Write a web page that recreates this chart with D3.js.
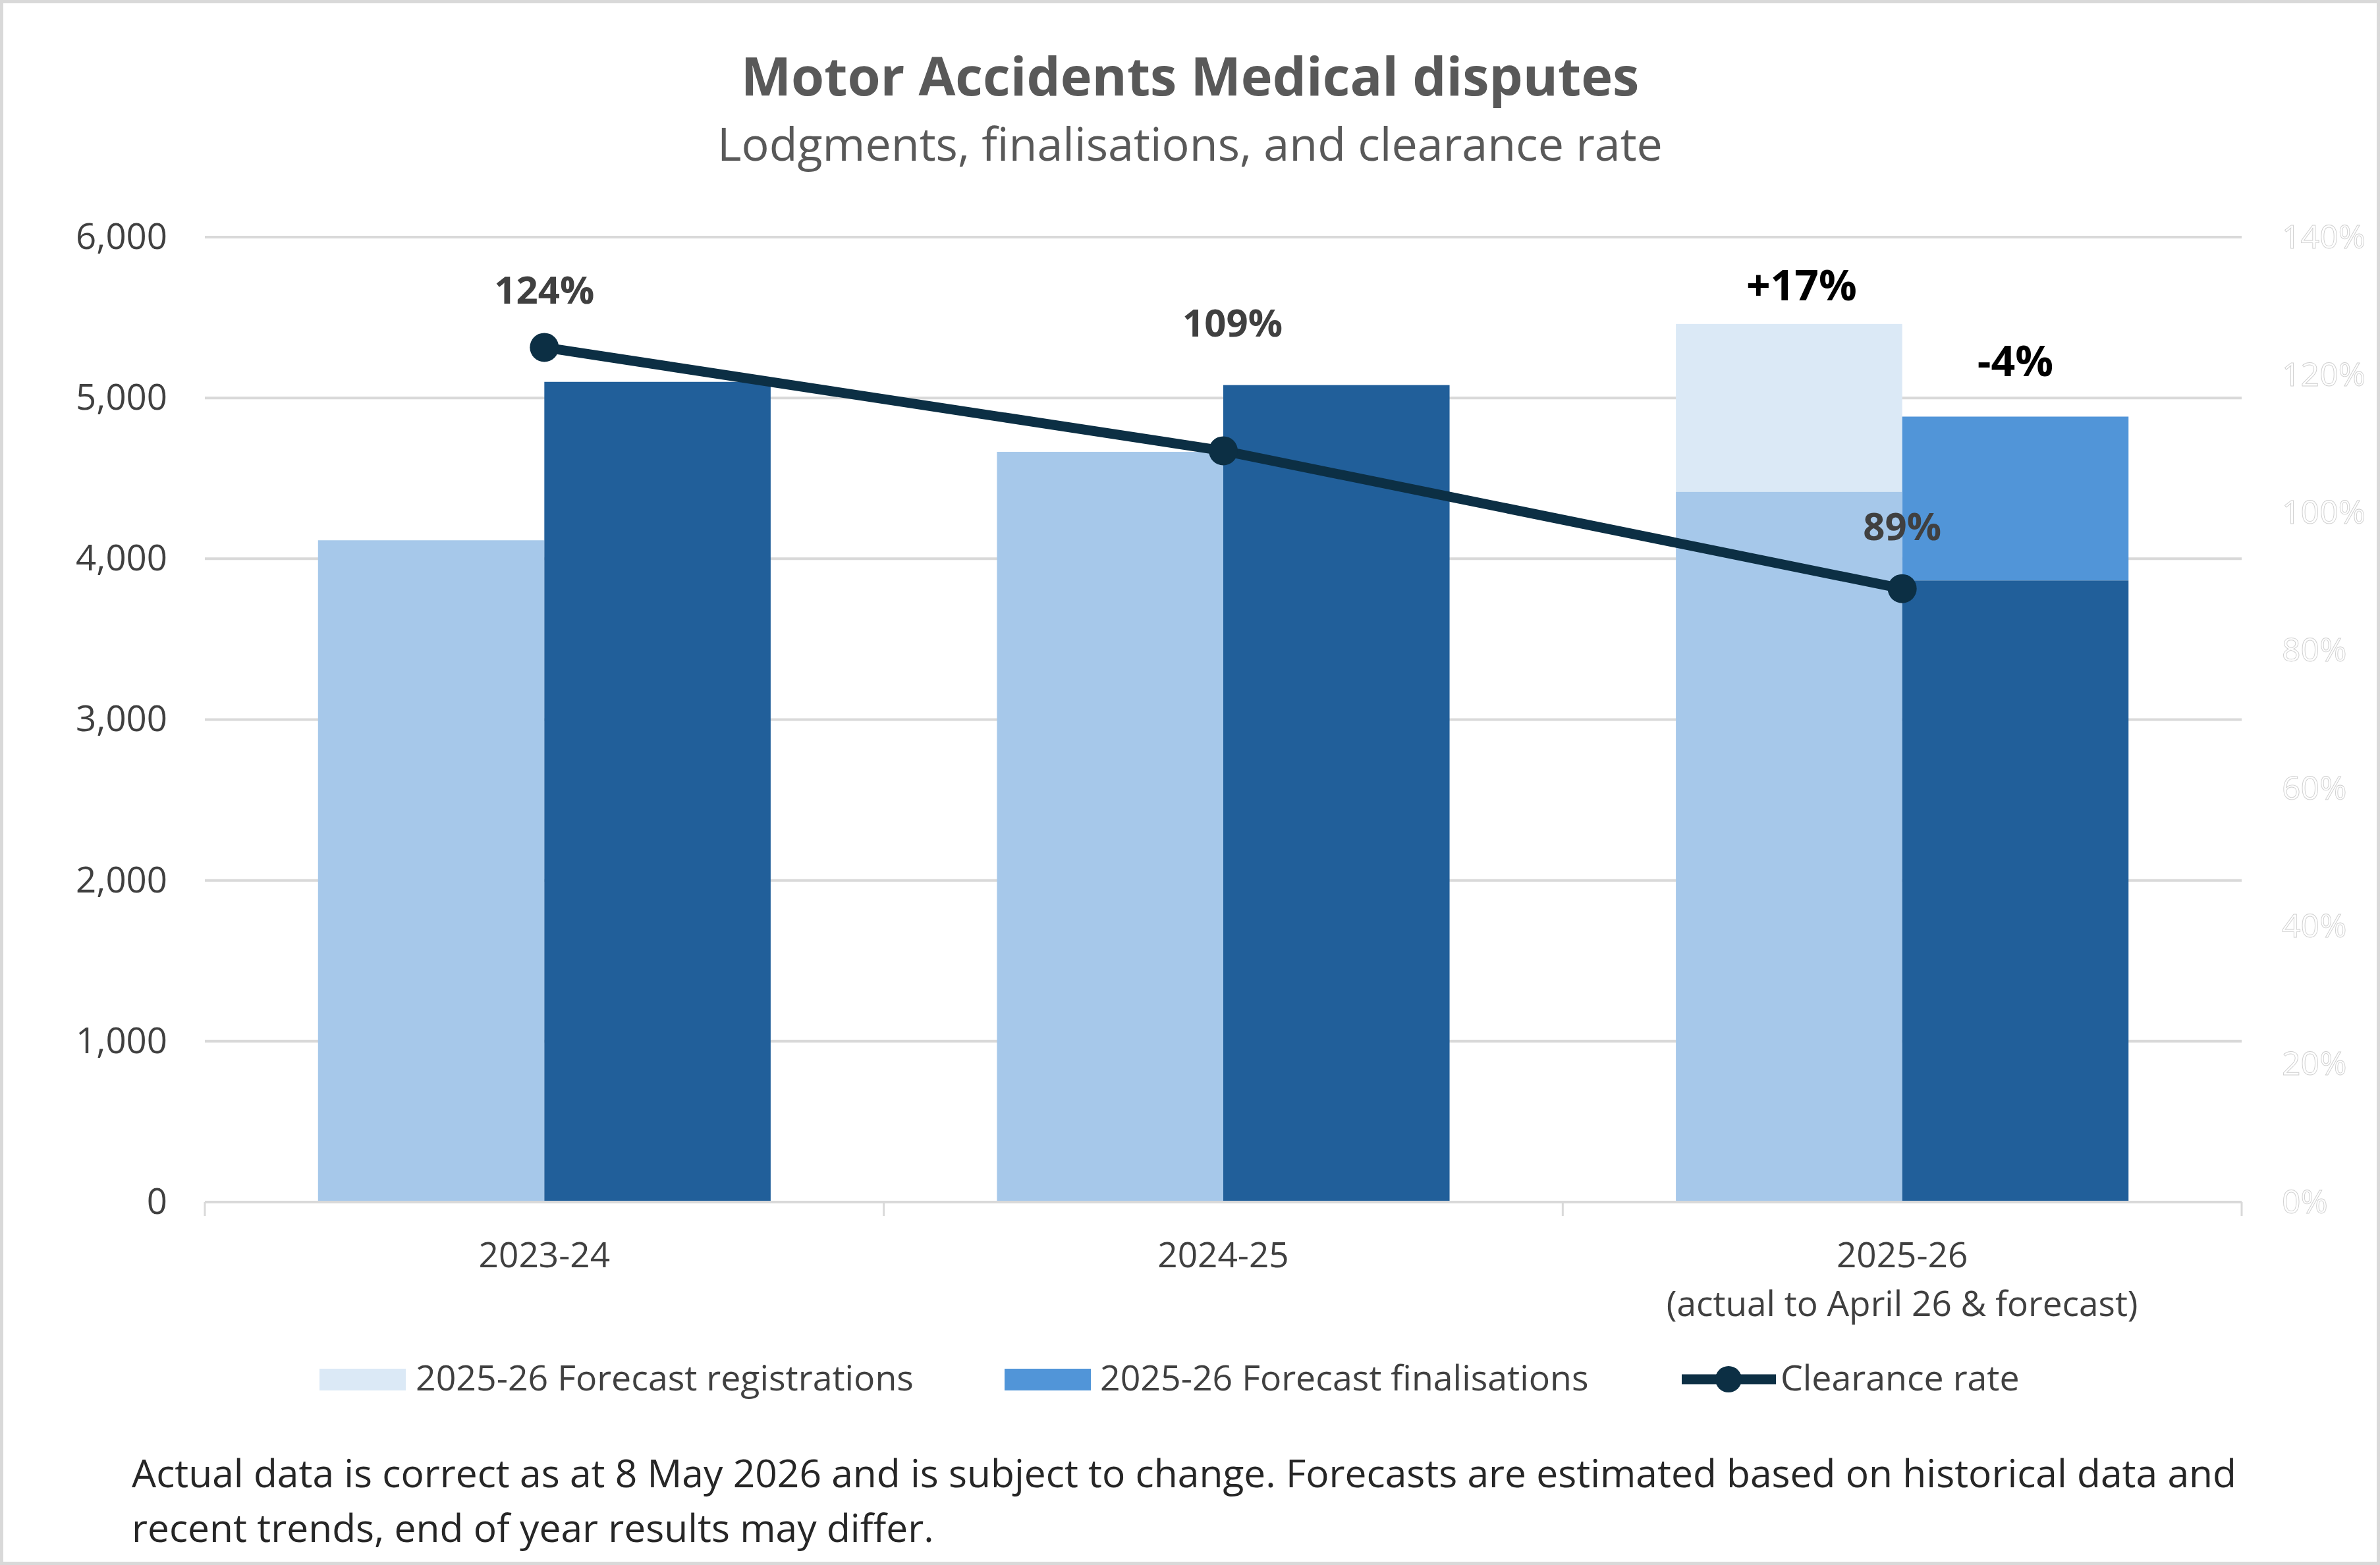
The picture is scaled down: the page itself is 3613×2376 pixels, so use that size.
<!DOCTYPE html>
<html>
<head>
<meta charset="utf-8">
<script src="https://cdn.jsdelivr.net/npm/d3@7"></script>
<style>
  html, body { margin: 0; padding: 0; background: #fff; }
  svg { display: block; }
  text { font-family: "Open Sans", "Noto Sans", sans-serif; }
</style>
</head>
<body>
<script>
// ---------------- DATA ----------------
const categories = ["2023-24", "2024-25", "2025-26"];
const categorySubLabels = ["", "", "(actual to April 26 & forecast)"];
const lodgments = [4115, 4665, 4416];            // actual lodgments / registrations
const finalisations = [5100, 5080, 3865];        // actual finalisations
const forecastRegistrations = [null, null, 5460]; // forecast total for year
const forecastFinalisations = [null, null, 4884]; // forecast total for year
const clearanceRate = [1.24, 1.09, 0.89];
const clearanceLabels = ["124%", "109%", "89%"];
const changeLabels = ["+17%", "-4%"];
const leftTicks = [0, 1000, 2000, 3000, 4000, 5000, 6000];
const rightTicks = [0, 0.2, 0.4, 0.6, 0.8, 1.0, 1.2, 1.4];
const legendLabels = ["2025-26 Forecast registrations", "2025-26 Forecast finalisations", "Clearance rate"];
const titleText = "Motor Accidents Medical disputes";
const subtitleText = "Lodgments, finalisations, and clearance rate";
const footnoteLines = [
  "Actual data is correct as at 8 May 2026 and is subject to change. Forecasts are estimated based on historical data and",
  "recent trends, end of year results may differ."
];

// ---------------- LAYOUT ----------------
const W = 3613, H = 2376;
const plot = { left: 311, right: 3403, top: 360, bottom: 1825 };
const colors = {
  lodg: "#a6c8ea", fin: "#215f9a", fReg: "#dbe9f6", fFin: "#5195d8",
  line: "#0c2f44", grid: "#d9d9d9", axisText: "#404040", title: "#595959"
};

const svg = d3.select("body").append("svg").attr("width", W).attr("height", H);
svg.append("rect").attr("x", 2.5).attr("y", 2.5).attr("width", W - 5).attr("height", H - 5)
  .attr("fill", "#fff").attr("stroke", "#d9d9d9").attr("stroke-width", 5);

const x = d3.scaleBand().domain(categories).range([plot.left, plot.right]).paddingInner(0).paddingOuter(0);
const x1 = d3.scaleBand().domain(["lodg", "fin"]).range([0, x.bandwidth()]).paddingInner(0).paddingOuter(0.5);
const y = d3.scaleLinear().domain([0, 6000]).range([plot.bottom, plot.top]);
const y2 = d3.scaleLinear().domain([0, 1.4]).range([plot.bottom, plot.top]);

function fitWidth(sel, target) {
  const w = sel.node().getComputedTextLength();
  const fs = parseFloat(sel.attr("font-size"));
  const nfs = fs * target / w;
  sel.attr("font-size", nfs);
  return nfs;
}

// Title & subtitle
const t = svg.append("text").attr("x", W / 2).attr("y", 145).attr("text-anchor", "middle")
  .attr("font-size", 84).attr("font-weight", 700).attr("fill", colors.title).text(titleText);
fitWidth(t, 1364);
const st = svg.append("text").attr("x", W / 2).attr("y", 244).attr("text-anchor", "middle")
  .attr("font-size", 68).attr("fill", colors.title).text(subtitleText);
fitWidth(st, 1435);

// Gridlines
const gridG = svg.append("g");
gridG.selectAll("line").data(leftTicks.filter(d => d > 0)).join("line")
  .attr("x1", plot.left).attr("x2", plot.right)
  .attr("y1", d => y(d)).attr("y2", d => y(d))
  .attr("stroke", colors.grid).attr("stroke-width", 4);

// Left axis labels
const leftAxis = d3.axisLeft(y).tickValues(leftTicks).tickFormat(d3.format(",")).tickSize(0).tickPadding(0);
const la = svg.append("g").attr("transform", `translate(${plot.left - 57},0)`).call(leftAxis);
la.select(".domain").remove();
la.selectAll("text").attr("font-size", 50).attr("fill", colors.axisText)
  .attr("font-family", '"Open Sans", sans-serif');
{
  const ref = la.selectAll("text").filter(d => d === 6000);
  const fs = fitWidth(ref, 139);
  la.selectAll("text").attr("font-size", fs);
}

// Right axis labels (very faint)
const rightAxis = d3.axisRight(y2).tickValues(rightTicks).tickFormat(d3.format(".0%")).tickSize(0).tickPadding(0);
const ra = svg.append("g").attr("transform", `translate(3464,0)`).call(rightAxis);
ra.select(".domain").remove();
ra.selectAll("text").attr("font-size", 50).attr("fill", "#ffffff").attr("stroke", "#cfcfcf")
  .attr("stroke-width", 0.9).attr("font-family", '"Open Sans", sans-serif');

// Bars
const groups = svg.append("g").selectAll("g").data(categories).join("g")
  .attr("transform", d => `translate(${x(d)},0)`);

// forecast registrations (background extension)
groups.filter((d, i) => forecastRegistrations[i] != null).append("rect")
  .attr("x", x1("lodg")).attr("width", x1.bandwidth())
  .attr("y", (d) => y(forecastRegistrations[categories.indexOf(d)]))
  .attr("height", d => y(lodgments[categories.indexOf(d)]) - y(forecastRegistrations[categories.indexOf(d)]))
  .attr("fill", colors.fReg);
groups.filter((d, i) => forecastFinalisations[i] != null).append("rect")
  .attr("x", x1("fin")).attr("width", x1.bandwidth())
  .attr("y", (d) => y(forecastFinalisations[categories.indexOf(d)]))
  .attr("height", d => y(finalisations[categories.indexOf(d)]) - y(forecastFinalisations[categories.indexOf(d)]))
  .attr("fill", colors.fFin);

groups.append("rect")
  .attr("x", x1("lodg")).attr("width", x1.bandwidth())
  .attr("y", d => y(lodgments[categories.indexOf(d)]))
  .attr("height", d => y(0) - y(lodgments[categories.indexOf(d)]))
  .attr("fill", colors.lodg);
groups.append("rect")
  .attr("x", x1("fin")).attr("width", x1.bandwidth())
  .attr("y", d => y(finalisations[categories.indexOf(d)]))
  .attr("height", d => y(0) - y(finalisations[categories.indexOf(d)]))
  .attr("fill", colors.fin);

// X axis line and ticks
svg.append("line").attr("x1", plot.left).attr("x2", plot.right)
  .attr("y1", y(0)).attr("y2", y(0)).attr("stroke", colors.grid).attr("stroke-width", 4);
const bounds = categories.map(c => x(c)).concat([x(categories[categories.length - 1]) + x.bandwidth()]);
svg.append("g").selectAll("line").data(bounds).join("line")
  .attr("x1", d => d).attr("x2", d => d)
  .attr("y1", y(0)).attr("y2", y(0) + 21)
  .attr("stroke", colors.grid).attr("stroke-width", 3);

// Category labels
const catG = svg.append("g");
const catText = catG.selectAll("text.cat").data(categories).join("text").attr("class", "cat")
  .attr("x", d => x(d) + x.bandwidth() / 2).attr("y", 1924)
  .attr("text-anchor", "middle").attr("font-size", 50).attr("fill", colors.axisText).text(d => d);
const subText = catG.selectAll("text.sub").data(categorySubLabels).join("text").attr("class", "sub")
  .attr("x", (d, i) => x(categories[i]) + x.bandwidth() / 2).attr("y", 1998)
  .attr("text-anchor", "middle").attr("font-size", 50).attr("fill", colors.axisText).text(d => d);
{
  const fs = fitWidth(subText.filter(d => d !== ""), 716);
  catText.attr("font-size", fs);
}

// Clearance rate line
const linePts = categories.map((c, i) => [x(c) + x.bandwidth() / 2, y2(clearanceRate[i])]);
svg.append("path").attr("d", d3.line()(linePts)).attr("fill", "none")
  .attr("stroke", colors.line).attr("stroke-width", 15).attr("stroke-linejoin", "round");
svg.append("g").selectAll("circle").data(linePts).join("circle")
  .attr("cx", d => d[0]).attr("cy", d => d[1]).attr("r", 22).attr("fill", colors.line);

// Clearance labels
const clearanceDy = [-66, -173, -74];
const clearanceDx = [0, 14, 0];
const clText = svg.append("g").selectAll("text").data(clearanceLabels).join("text")
  .attr("x", (d, i) => linePts[i][0] + clearanceDx[i]).attr("y", (d, i) => linePts[i][1] + clearanceDy[i])
  .attr("text-anchor", "middle").attr("font-size", 50).attr("font-weight", 700)
  .attr("fill", colors.axisText).text(d => d);
{
  const fs = fitWidth(clText.filter((d, i) => i === 0), 152);
  clText.attr("font-size", fs);
}

// Change labels above forecast bars
const lastCat = categories[2];
const changePos = [
  { x: x(lastCat) + x1("lodg") + x1.bandwidth() / 2 + 19, y: y(forecastRegistrations[2]) - 36 },
  { x: x(lastCat) + x1("fin") + x1.bandwidth() / 2, y: y(forecastFinalisations[2]) - 61 }
];
const chText = svg.append("g").selectAll("text").data(changeLabels).join("text")
  .attr("x", (d, i) => changePos[i].x).attr("y", (d, i) => changePos[i].y)
  .attr("text-anchor", "middle").attr("font-size", 62).attr("font-weight", 700)
  .attr("fill", "#000").text(d => d);
{
  const fs = fitWidth(chText.filter((d, i) => i === 0), 168);
  chText.attr("font-size", fs);
}

// Legend
const legG = svg.append("g");
const legY = 2094;
legG.append("rect").attr("x", 485).attr("y", legY - 16).attr("width", 131).attr("height", 33).attr("fill", colors.fReg);
legG.append("rect").attr("x", 1525).attr("y", legY - 16).attr("width", 131).attr("height", 33).attr("fill", colors.fFin);
legG.append("line").attr("x1", 2553).attr("x2", 2696).attr("y1", legY).attr("y2", legY)
  .attr("stroke", colors.line).attr("stroke-width", 15);
legG.append("circle").attr("cx", 2624).attr("cy", legY).attr("r", 20).attr("fill", colors.line);
const legX = [631, 1670, 2703];
const legText = legG.selectAll("text").data(legendLabels).join("text")
  .attr("x", (d, i) => legX[i]).attr("y", 2111).attr("font-size", 50).attr("fill", colors.axisText).text(d => d);
{
  const fs = fitWidth(legText.filter((d, i) => i === 0), 756);
  legText.attr("font-size", fs);
}

// Footnote
const fn = svg.append("g").selectAll("text").data(footnoteLines).join("text")
  .attr("x", 200).attr("y", (d, i) => 2258 + i * 83)
  .attr("font-size", 54).attr("fill", "#262626").text(d => d);
{
  const fs = fitWidth(fn.filter((d, i) => i === 0), 3196);
  fn.attr("font-size", fs);
}
</script>
</body>
</html>
